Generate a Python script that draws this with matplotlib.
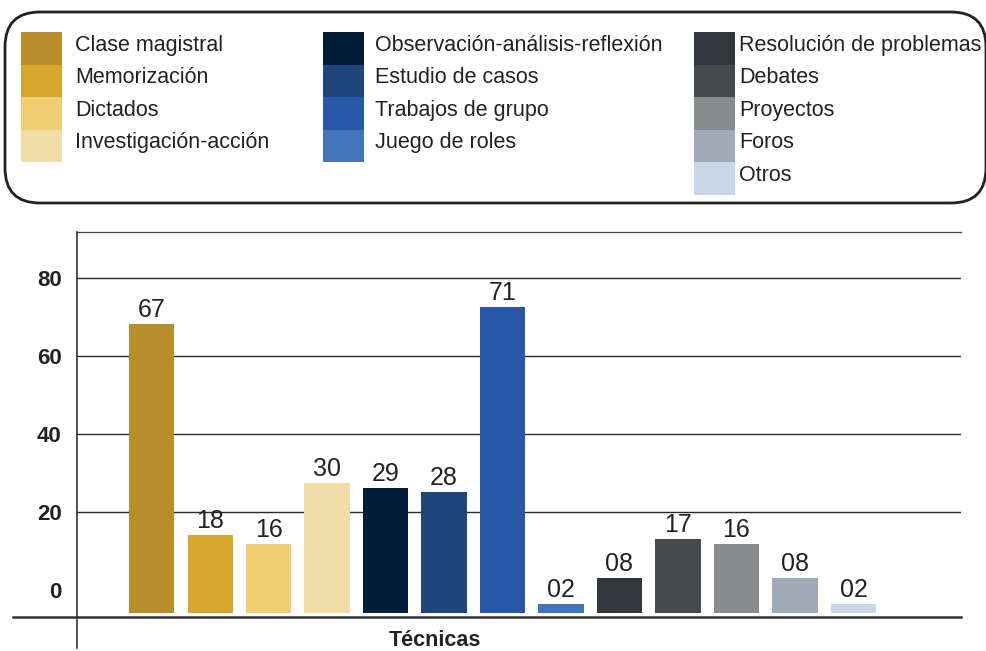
import matplotlib
matplotlib.use("Agg")
import numpy as np
import matplotlib.pyplot as plt
from matplotlib.patches import FancyBboxPatch, Rectangle
from matplotlib.lines import Line2D

# datos del gráfico
categorias = ["Clase magistral", "Memorización", "Dictados", "Investigación-acción",
              "Observación-análisis-reflexión", "Estudio de casos", "Trabajos de grupo",
              "Juego de roles", "Resolución de problemas", "Debates", "Proyectos",
              "Foros", "Otros"]
valores = [67, 18, 16, 30, 29, 28, 71, 2, 8, 17, 16, 8, 2]
etiquetas = ["67", "18", "16", "30", "29", "28", "71", "02", "08", "17", "16", "08", "02"]
colores = ["#B78E29", "#D7A72D", "#F1CD72", "#F0DCA6",
           "#011C38", "#1F467A", "#2859A8", "#4275BA",
           "#33373B", "#464A4D", "#898C8D", "#A1ABB7", "#C8D6E8"]
ticks_y = [0, 20, 40, 60, 80]
columnas_leyenda = [4, 4, 5]
titulo_x = "Técnicas"

FAM = ["Liberation Sans", "DejaVu Sans"]
plt.rcParams["font.family"] = FAM

W, H = 987, 651
fig = plt.figure(figsize=(W / 100, H / 100), dpi=100)

# ejes de las barras (en pixeles del original: x 77-961, y 232-617)
ax = fig.add_axes([77 / W, 1 - 617 / H, 884 / W, (617 - 232) / H])
ax2 = ax.twinx()  # escala de las etiquetas del eje y / lineas guia
ax.set_zorder(ax2.get_zorder() + 1)
ax.patch.set_visible(False)

x = np.arange(len(valores))
ax.bar(x, valores, width=0.77, color=colores, zorder=3)
for i, (v, t) in enumerate(zip(valores, etiquetas)):
    ax.annotate(t, (i, v), xytext=(0, 5), textcoords="offset points",
                ha="center", va="baseline", fontsize=18, color="#222222")
ax.set_xlim(-1.274, 13.838)
ax.set_ylim(-1.0, 88.3)
ax.set_xticks([])
ax.set_yticks([])
for s in ["left", "right", "bottom"]:
    ax.spines[s].set_visible(False)
ax.spines["top"].set_color("#444444")
ax.spines["top"].set_linewidth(0.9)

ax2.set_ylim(-6.92, 91.8)
ax2.yaxis.tick_left()
ax2.set_yticks(ticks_y)
ax2.set_yticklabels([str(t) for t in ticks_y], fontweight="bold",
                    fontsize=16, color="#222222")
ax2.tick_params(axis="y", length=0, pad=11)
for t in ticks_y[1:]:
    ax2.axhline(t, color="#2a2a2a", lw=1.0, zorder=1)
for s in ax2.spines.values():
    s.set_visible(False)

# capa superior en pixeles para leyenda y lineas de eje
ov = fig.add_axes([0, 0, 1, 1])
ov.set_xlim(0, W)
ov.set_ylim(H, 0)
ov.axis("off")
ov.set_zorder(5)

ov.add_line(Line2D([77, 77], [232, 648], color="#333333", lw=1.2))
ov.add_line(Line2D([13, 961], [617, 617], color="#333333", lw=1.8))

caja = FancyBboxPatch((5, 12), 981, 191, boxstyle="round,pad=0,rounding_size=35",
                      fc="white", ec="#222222", lw=2, clip_on=False)
ov.add_patch(caja)

sw_x = [21, 323, 694]
tx_x = [75, 375, 739]
alto = 32.5
k = 0
for c, n in enumerate(columnas_leyenda):
    for r in range(n):
        y0 = 32 + r * alto
        ov.add_patch(Rectangle((sw_x[c], y0), 41, alto, fc=colores[k], ec="none"))
        ov.text(tx_x[c], y0 + alto / 2 - 3, categorias[k],
                fontsize=15.5, color="#222222", ha="left", va="center")
        k += 1

ov.text(435, 640, titulo_x, fontweight="bold", fontsize=15.5,
        color="#222222", ha="center", va="center")

fig.savefig("out.png", dpi=100)
